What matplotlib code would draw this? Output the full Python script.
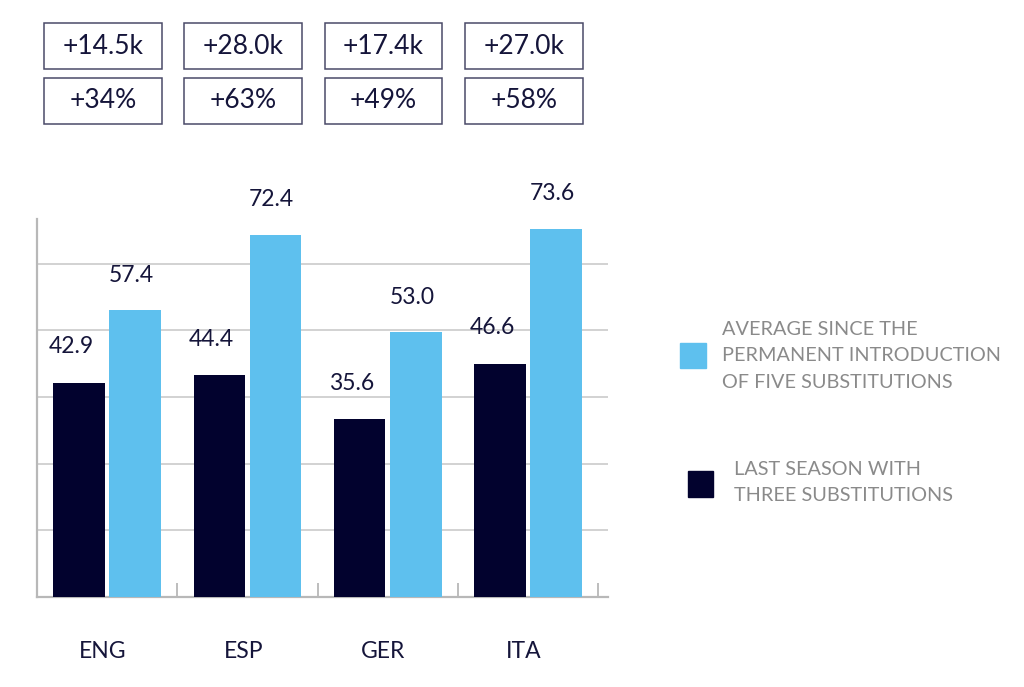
import numpy as np
import matplotlib
matplotlib.use("Agg")
from matplotlib import pyplot as plt
from matplotlib.patches import Rectangle
from matplotlib.transforms import blended_transform_factory

plt.rcParams['font.family'] = ['Lato', 'DejaVu Sans']

countries = ["ENG", "ESP", "GER", "ITA"]
three_subs = [42.9, 44.4, 35.6, 46.6]
five_subs = [57.4, 72.4, 53.0, 73.6]
abs_gain = ["+14.5k", "+28.0k", "+17.4k", "+27.0k"]
pct_gain = ["+34%", "+63%", "+49%", "+58%"]

label_five = "AVERAGE SINCE THE\nPERMANENT INTRODUCTION\nOF FIVE SUBSTITUTIONS"
label_three = "LAST SEASON WITH\nTHREE SUBSTITUTIONS"

dark = "#02022e"
light = "#5ec0ee"
text_col = "#15153a"
grey_text = "#8a8a8a"
grid_col = "#cfcfcf"

fig = plt.figure(figsize=(10.24, 6.87), dpi=100)
ax = fig.add_axes([37 / 1024, 90 / 687, 571 / 1024, 378 / 687])

x = np.arange(len(countries))
w = 0.368
ax.bar(x - 0.2, three_subs, w, color=dark, zorder=3)
ax.bar(x + 0.2, five_subs, w, color=light, zorder=3)

for xi, v in zip(x, three_subs):
    ax.annotate(f"{v:.1f}", (xi - 0.2, v), xytext=(-8, 36), textcoords="offset pixels",
                ha="center", va="center", fontsize=16.5, color=text_col)
for xi, v in zip(x, five_subs):
    ax.annotate(f"{v:.1f}", (xi + 0.2, v), xytext=(-4, 35), textcoords="offset pixels",
                ha="center", va="center", fontsize=16.5, color=text_col)

ax.set_xlim(-0.5, 3.57)
ax.set_ylim(0, 75.6)
ax.set_yticks(np.arange(1, 6) * 80 / 6)
ax.yaxis.grid(True, color=grid_col, lw=1.3, zorder=0)
ax.tick_params(axis="y", length=0, labelleft=False)

ax.set_xticks(x - 0.03)
ax.set_xticklabels(countries, fontsize=16.5, color=text_col)
ax.tick_params(axis="x", length=0, pad=32)
ax.set_xticks(x + 0.5, minor=True)
ax.tick_params(axis="x", which="minor", direction="in", length=10, color="#b8b8b8", width=1.3)

for s in ["top", "right"]:
    ax.spines[s].set_visible(False)
for s in ["left", "bottom"]:
    ax.spines[s].set_color("#b8b8b8")
    ax.spines[s].set_linewidth(1.6)

# boxes with the increases above each country
tr = blended_transform_factory(ax.transData, fig.transFigure)
bw = 0.84
rows = [(1 - 69 / 687, abs_gain), (1 - 124 / 687, pct_gain)]
bh = 46 / 687
for y0, texts in rows:
    for xi, t in zip(x, texts):
        cx = xi - 0.03
        ax.add_patch(Rectangle((cx - bw / 2, y0), bw, bh, transform=tr, fill=False,
                               edgecolor="#4a4a68", lw=1.1, clip_on=False))
        fig.text(cx, y0 + bh / 2, t, transform=tr, ha="center", va="center",
                 fontsize=19, color=text_col)

# legend
fig.patches.append(Rectangle((680 / 1024, 1 - 368 / 687), 26 / 1024, 25 / 687,
                             transform=fig.transFigure, color=light))
fig.text(722 / 1024, 1 - 356 / 687, label_five, ha="left", va="center",
         fontsize=14.3, color=grey_text, linespacing=1.7)
fig.patches.append(Rectangle((688 / 1024, 1 - 497 / 687), 25 / 1024, 26 / 687,
                             transform=fig.transFigure, color=dark))
fig.text(734 / 1024, 1 - 482.5 / 687, label_three, ha="left", va="center",
         fontsize=14.3, color=grey_text, linespacing=1.7)

fig.savefig("out.png", dpi=100)
